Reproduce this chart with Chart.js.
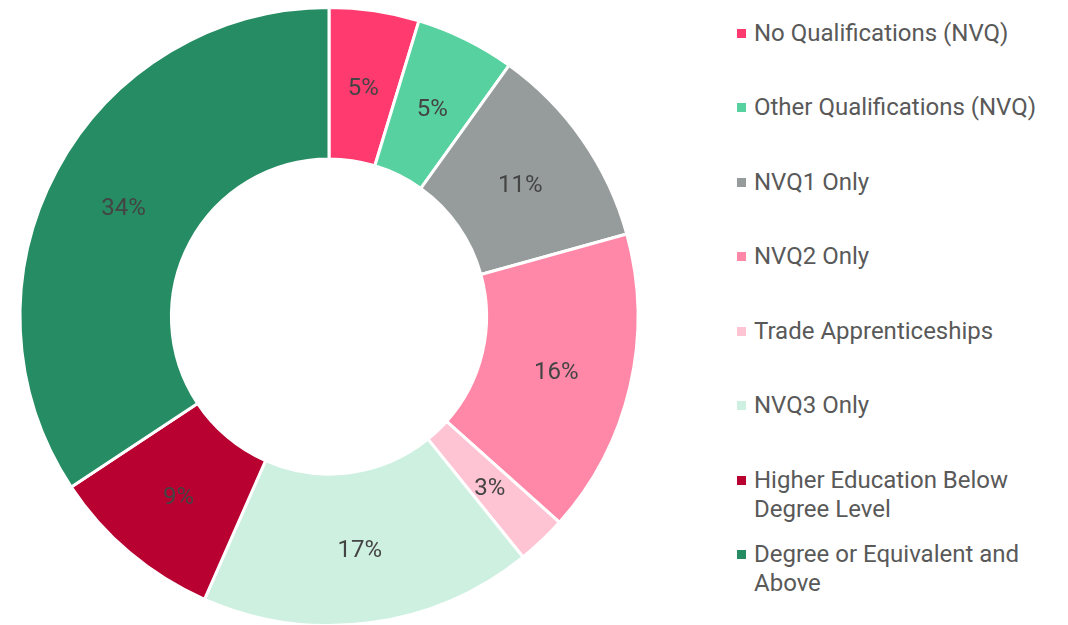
<!DOCTYPE html>
<html>
<head>
<meta charset="utf-8">
<script src="https://cdn.jsdelivr.net/npm/chart.js@4/dist/chart.umd.min.js"></script>
<style>
  html, body { margin: 0; padding: 0; background: #fff; overflow: hidden; }
  body { width: 1068px; height: 625px; position: relative; font-family: Roboto, Arial, sans-serif; }
  #chart-box { position: absolute; left: 0; top: 0; width: 658px; height: 634px; }
  #legend { position: absolute; left: 737px; top: 18.5px; width: 330px; margin: 0; padding: 0; list-style: none; }
  #legend li { position: relative; height: 74.5px; padding-left: 17px; font-size: 24px; line-height: 29px; color: #595959; box-sizing: border-box; }
  #legend li span.sw { position: absolute; left: 0; top: 10px; width: 9px; height: 9px; }
  #legend li span.tx { display: block; width: 300px; }
</style>
</head>
<body>
<div id="chart-box"><canvas id="c"></canvas></div>
<ul id="legend"></ul>
<script>
// Share of qualification levels, doughnut with % labels inside each slice.
const categories = [
  'No Qualifications (NVQ)',
  'Other Qualifications (NVQ)',
  'NVQ1 Only',
  'NVQ2 Only',
  'Trade Apprenticeships',
  'NVQ3 Only',
  'Higher Education Below Degree Level',
  'Degree or Equivalent and Above',
];
const shares = [4.7, 5.2, 10.8, 15.9, 2.6, 17.4, 9.1, 34.3];
const colors = ['#ff3a6e', '#57d19f', '#969c9b', '#ff88a8', '#ffc4d3', '#cdf0e1', '#b80031', '#268c63'];

// Draw rounded % inside each arc at its mid radius
const sliceLabels = {
  id: 'sliceLabels',
  afterDatasetsDraw(chart) {
    const ctx = chart.ctx;
    const meta = chart.getDatasetMeta(0);
    ctx.save();
    ctx.font = '24px Roboto, Arial, sans-serif';
    ctx.fillStyle = '#444444';
    ctx.textAlign = 'center';
    ctx.textBaseline = 'middle';
    meta.data.forEach((arc, i) => {
      const p = arc.tooltipPosition();
      ctx.fillText(Math.round(shares[i]) + '%', p.x, p.y + 3);
    });
    ctx.restore();
  },
};

new Chart(document.getElementById('c'), {
  type: 'doughnut',
  data: {
    labels: categories,
    datasets: [{
      data: shares,
      backgroundColor: colors,
      borderColor: '#ffffff',
      borderWidth: 3,
    }],
  },
  options: {
    responsive: true,
    maintainAspectRatio: false,
    animation: false,
    cutout: '51%',
    layout: { padding: { top: 6, bottom: 7, left: 0, right: 0 } },
    plugins: {
      legend: { display: false },
      tooltip: { enabled: false },
    },
  },
  plugins: [sliceLabels],
});

// HTML legend so long names can wrap onto two lines
const ul = document.getElementById('legend');
categories.forEach((name, i) => {
  const li = document.createElement('li');
  li.innerHTML = `<span class="sw" style="background:${colors[i]}"></span><span class="tx">${name}</span>`;
  ul.appendChild(li);
});
</script>
</body>
</html>
